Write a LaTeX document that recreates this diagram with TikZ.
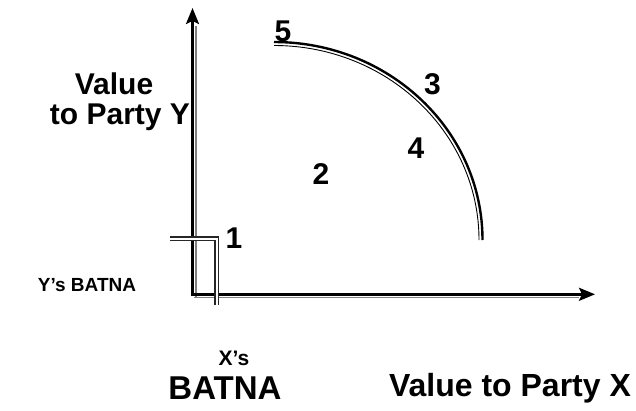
\documentclass[tikz,border=0pt]{standalone}
\usepackage{fontspec}
\setsansfont{Liberation Sans}
\usepackage{tikz}
\usetikzlibrary{arrows.meta}

\begin{document}
\begin{tikzpicture}[
    x=1pt, y=-1pt,
    axes/.style={line width=2.6pt, {Stealth[length=16pt, width=13pt, inset=3pt]}-{Stealth[length=16pt, width=13pt, inset=3pt]}},
    shadow/.style={gray, line width=1.4pt},
    batna/.style={draw=black!85, double=white, double distance=2pt, line width=1.6pt},
    frontier/.style={line width=2.4pt},
    num/.style={font=\sffamily\bfseries\fontsize{30}{30}\selectfont, inner sep=0pt},
    big/.style={font=\sffamily\bfseries\fontsize{32}{33}\selectfont, inner sep=0pt},
    small/.style={font=\sffamily\bfseries\fontsize{19}{19}\selectfont, inner sep=0pt}
]
    \useasboundingbox (0,0) rectangle (636,410);
    % axes
    \coordinate (ytip) at (192.5,8);
    \coordinate (origin) at (192.5,294.3);
    \coordinate (xtip) at (595,294.3);
    \draw[shadow] (195.8,297) -- (195.8,26);
    \draw[shadow] (194,297.4) -- (579,297.4);
    \draw[axes] (ytip) -- (origin) -- (xtip);
    % batnas
    \coordinate (ybatna) at (170,238.5);
    \coordinate (deal) at (216.8,238.5);
    \coordinate (xbatna) at (216.8,305);
    \draw[batna] (ybatna) -- (deal) -- (xbatna);
    % frontier
    \coordinate (fstart) at (274,42);
    \coordinate (fend) at (482.5,240);
    \draw[frontier] (fstart) .. controls (389.2,42) and (482.5,130.6) .. (fend);
    \draw[line width=0.9pt] (274,45.5) .. controls (387.2,45.5) and (479,132.6) .. (479,240);
    % numbers
    \node[num] (n5) at (283,31) {5};
    \node[num] (n3) at (432.5,84) {3};
    \node[num] (n4) at (416,148.5) {4};
    \node[num] (n2) at (321,174.5) {2};
    \node[num] (n1) at (234,238) {1};
    % labels
    \node[big, font=\sffamily\bfseries\fontsize{30}{30}\selectfont] (yval) at (114,84) {Value};
    \node[big, font=\sffamily\bfseries\fontsize{30}{30}\selectfont] (yparty) at (120,117) {to Party Y};
    \node[small] (ybl) at (87,285) {Y’s BATNA};
    \node[small, font=\sffamily\bfseries\fontsize{21}{21}\selectfont] (xbl) at (234,358) {X’s};
    \node[big, font=\sffamily\bfseries\fontsize{33}{33}\selectfont] (xb) at (225,388) {BATNA};
    \node[big] (xval) at (510,388) {Value to Party X};
\end{tikzpicture}
\end{document}
